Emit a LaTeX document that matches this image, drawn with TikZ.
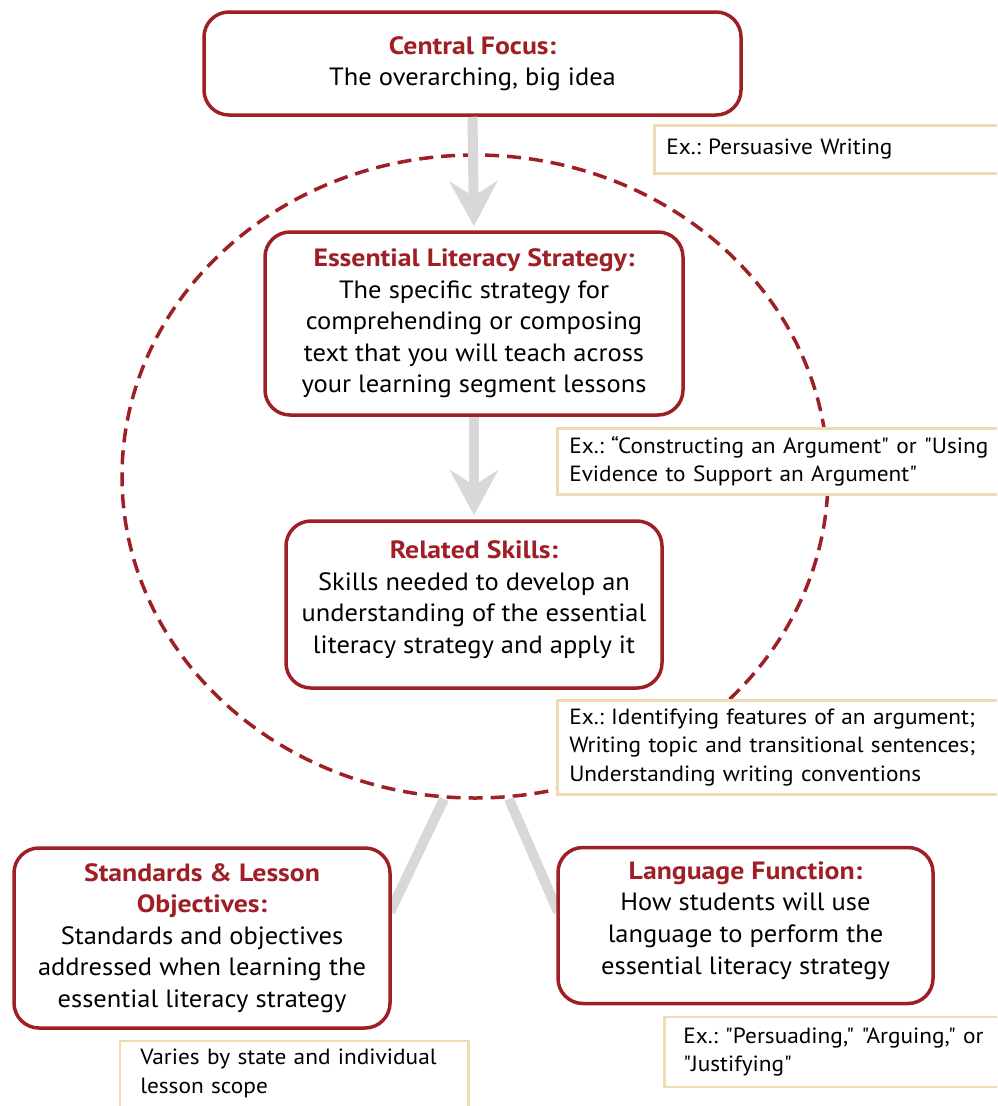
\documentclass[tikz,border=0pt]{standalone}
\usepackage{fontspec}
\setmainfont{PT Sans}[Ligatures=TeXOff, FakeStretch=1.06, BoldFeatures={FakeStretch=1.11}]
\usetikzlibrary{arrows.meta,shapes.geometric}
\definecolor{dred}{HTML}{9E1F26}
\definecolor{tanc}{HTML}{EFDAB3}
\definecolor{lgray}{HTML}{D7D8D7}
\newcommand\ttl[1]{{\bfseries\color{dred}#1}}
\frenchspacing
\tikzset{
  mainbox/.style={draw=dred, line width=3.5pt, rounded corners=25pt, fill=white,
    align=center, font=\fontsize{25}{31.5}\selectfont, inner sep=0pt},
  boxtext/.style={align=center, font=\fontsize{25}{31.5}\selectfont, inner sep=0pt},
  exbox/.style={draw=tanc, line width=2.5pt, fill=white, align=left,
    font=\fontsize{22}{28.5}\selectfont, inner xsep=12pt, inner ysep=0pt, anchor=west},
  exline/.style={draw=tanc, line width=2.5pt},
  flow/.style={draw=lgray, line width=10pt},
  flowarrow/.style={flow, -{Stealth[length=45pt, width=48pt, inset=15pt]}},
  ring/.style={draw=dred, line width=3.5pt, dash pattern=on 14pt off 8pt, ellipse, inner sep=0pt}
}
\begin{document}
\begin{tikzpicture}[x=1pt,y=-1pt]
\useasboundingbox (0,0) rectangle (997,1106);
\clip (0,0) rectangle (997,1106);
% dashed ring
\node[ring, minimum width=706pt, minimum height=643pt] (ring) at (475,476.5) {};
% points on the ring where the lower connectors start
\coordinate (rl) at (444,799);
\coordinate (rr) at (509,799);
% ends of the lower connectors (hidden under the boxes)
\coordinate (stdr) at (390,912);
\coordinate (lfl) at (558,912);
\draw[flow] (rl) -- (stdr);
\draw[flow] (rr) -- (lfl);
% main boxes
\node[mainbox, minimum width=537pt, minimum height=103pt] (cf) at (472.5,63.5)
  {\ttl{Central Focus:}\\The overarching, big idea};
\node[mainbox, minimum width=418pt, minimum height=183pt] (els) at (474,323.5)
  {\ttl{Essential Literacy Strategy:}\\The specific strategy for\\comprehending or composing\\text that you will teach across\\your learning segment lessons};
\node[mainbox, minimum width=376pt, minimum height=167pt] (rs) at (474,604.5) {};
\node[boxtext] (rst) at ([yshift=5pt]rs.center)
  {\ttl{Related Skills:}\\Skills needed to develop an\\understanding of the essential\\literacy strategy and apply it};
\node[mainbox, minimum width=376pt, minimum height=180pt] (std) at (202,938)
  {\ttl{Standards \& Lesson}\\\ttl{Objectives:}\\Standards and objectives\\addressed when learning the\\essential literacy strategy};
\node[mainbox, minimum width=375pt, minimum height=156pt] (lf) at (745.5,925.5) {};
\node[boxtext] (lft) at ([yshift=5pt]lf.center)
  {\ttl{Language Function:}\\How students will use\\language to perform the\\essential literacy strategy};
\draw[flowarrow, shorten >=4pt] (cf.south) -- (els.north);
\draw[flowarrow, shorten >=4pt] (els.south) -- (rs.north);
% example boxes
\node[exbox, minimum width=380pt, text width=356pt, minimum height=48pt] (ex1) at (653,149.5)
  {Ex.: Persuasive Writing};
\node[exbox, minimum width=460pt, text width=436pt, minimum height=66pt] (ex2) at (556,461.5)
  {Ex.: “Constructing an Argument" or "Using\\Evidence to Support an Argument"};
\node[exbox, minimum width=460pt, text width=436pt, minimum height=94pt] (ex3) at (556,747.5)
  {Ex.: Identifying features of an argument;\\Writing topic and transitional sentences;\\Understanding writing conventions};
\node[exbox, inner xsep=19pt, minimum width=360pt, text width=322pt, minimum height=70pt] (ex5) at (663,1052)
  {Ex.: "Persuading," "Arguing," or\\"Justifying"};
\node[exbox, draw=none, fill=white, anchor=north west, inner xsep=19pt, inner ysep=7pt,
  minimum width=346pt, text width=308pt] (ex4) at (120,1041)
  {Varies by state and individual\\lesson scope};
\draw[exline] (ex4.north west |- 0,1120) -- (ex4.north west) -- (ex4.north east) -- (ex4.north east |- 0,1120);
\end{tikzpicture}
\end{document}
